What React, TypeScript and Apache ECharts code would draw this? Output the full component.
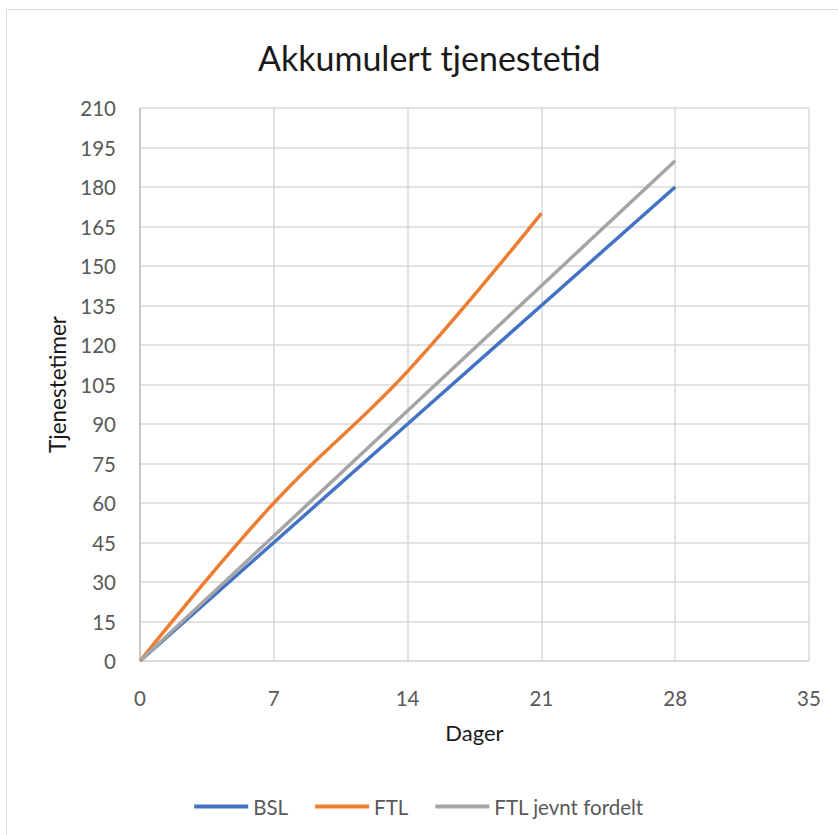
import React, { useEffect, useRef } from "react";
import * as echarts from "echarts";

// Cumulative duty hours per day count
const days: number[] = [0, 7, 14, 21, 28];
const bsl: number[] = [0, 45, 90, 135, 180];
const ftl: number[] = [0, 60, 110, 170];
const ftlEven: number[] = [0, 47.5, 95, 142.5, 190];

const seriesNames = ["BSL", "FTL", "FTL jevnt fordelt"];
const colors = ["#4472C4", "#ED7D31", "#A5A5A5"];

const FONT = "Lato, 'Open Sans', sans-serif";

export default function App() {
  const ref = useRef<HTMLDivElement>(null);

  useEffect(() => {
    if (!ref.current) return;
    const chart = echarts.init(ref.current, undefined, { renderer: "svg" });
    const pairs = (ys: number[]) => ys.map((y, i) => [days[i], y]);
    chart.setOption({
      animation: false,
      backgroundColor: "#ffffff",
      textStyle: { fontFamily: FONT },
      title: {
        text: "Akkumulert tjenestetid",
        left: 253,
        top: 35,
        textStyle: { fontFamily: FONT, fontSize: 34, fontWeight: "normal", color: "#1a1a1a" },
      },
      graphic: [
        {
          type: "rect",
          shape: { x: 6.5, y: 9.5, width: 900, height: 900 },
          style: { fill: "none", stroke: "#d9d9d9", lineWidth: 1 },
          silent: true,
        },
      ],
      grid: { left: 140, right: 29, top: 108, bottom: 174 },
      legend: {
        top: 791,
        left: "center",
        icon: "rect",
        itemWidth: 54,
        itemHeight: 4,
        itemGap: 27,
        textStyle: { fontFamily: FONT, fontSize: 20.5, color: "#595959" },
        data: seriesNames,
      },
      xAxis: {
        type: "value",
        min: 0,
        max: 35,
        interval: 7,
        name: "Dager",
        nameLocation: "middle",
        nameGap: 60,
        nameTextStyle: { fontFamily: FONT, fontSize: 22, color: "#1a1a1a" },
        axisLine: { show: true, lineStyle: { color: "#d9d9d9", width: 1.5 } },
        axisTick: { show: false },
        axisLabel: { fontFamily: FONT, fontSize: 20.5, color: "#595959", margin: 26 },
        splitLine: { show: true, lineStyle: { color: "#d9d9d9", width: 1.5 } },
      },
      yAxis: {
        type: "value",
        min: 0,
        max: 210,
        interval: 15,
        name: "Tjenestetimer",
        nameLocation: "middle",
        nameGap: 70,
        nameRotate: 90,
        nameTextStyle: { fontFamily: FONT, fontSize: 22.5, color: "#1a1a1a" },
        axisLine: { show: true, lineStyle: { color: "#bfbfbf", width: 1.5 } },
        axisTick: { show: false },
        axisLabel: { fontFamily: FONT, fontSize: 20.5, color: "#595959", margin: 24 },
        splitLine: { show: true, lineStyle: { color: "#d9d9d9", width: 1.5 } },
      },
      series: [
        {
          name: seriesNames[0],
          type: "line",
          data: pairs(bsl),
          showSymbol: false,
          color: colors[0],
          lineStyle: { width: 3.5, color: colors[0] },
        },
        {
          name: seriesNames[1],
          type: "line",
          data: pairs(ftl),
          smooth: 0.4,
          showSymbol: false,
          color: colors[1],
          lineStyle: { width: 3.5, color: colors[1] },
        },
        {
          name: seriesNames[2],
          type: "line",
          data: pairs(ftlEven),
          showSymbol: false,
          color: colors[2],
          lineStyle: { width: 3.5, color: colors[2] },
        },
      ],
    });
    return () => chart.dispose();
  }, []);

  return <div ref={ref} style={{ width: 838, height: 835, position: "absolute", left: 0, top: 0 }} />;
}
